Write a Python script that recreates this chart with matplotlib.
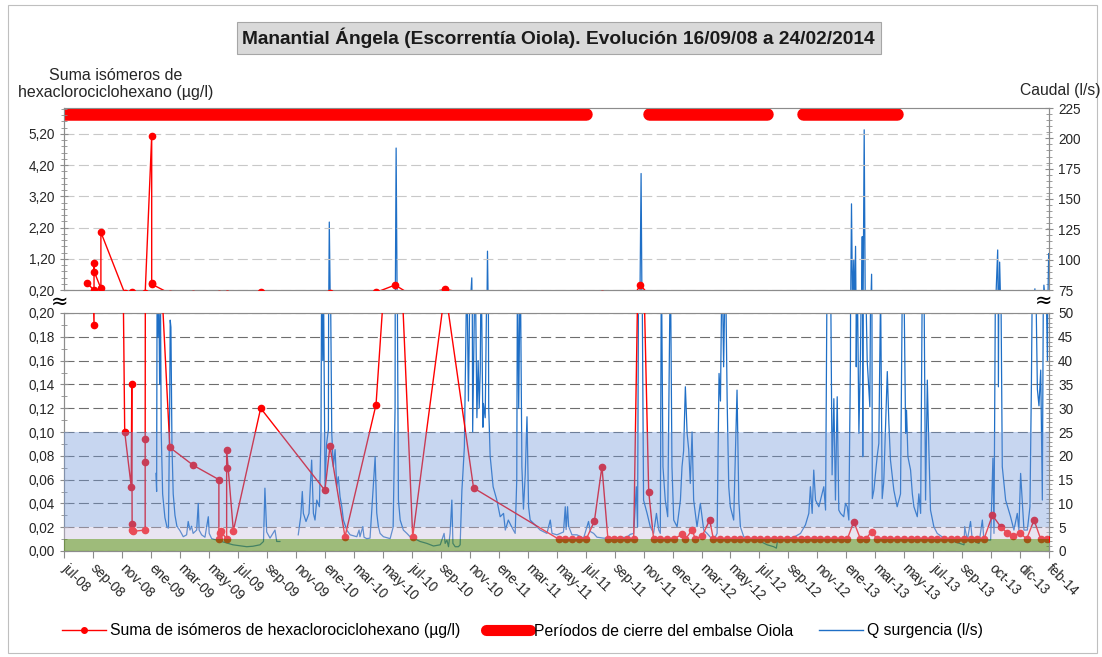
import numpy as np
import pandas as pd
import matplotlib
matplotlib.use('Agg')
import matplotlib.pyplot as plt
from matplotlib.lines import Line2D
from matplotlib.patches import Rectangle
from matplotlib.ticker import MultipleLocator, FixedLocator, FuncFormatter

plt.rcParams['font.family'] = ['Liberation Sans', 'DejaVu Sans']

# ---------------- datos (tiempo en años decimales) ----------------
x_labels = ['jul-08', 'sep-08', 'nov-08', 'ene-09', 'mar-09', 'may-09', 'jul-09', 'sep-09',
            'nov-09', 'ene-10', 'mar-10', 'may-10', 'jul-10', 'sep-10', 'nov-10', 'ene-11',
            'mar-11', 'may-11', 'jul-11', 'sep-11', 'nov-11', 'ene-12', 'mar-12', 'may-12',
            'jul-12', 'sep-12', 'nov-12', 'ene-13', 'mar-13', 'may-13', 'jul-13', 'sep-13',
            'oct-13', 'dic-13', 'feb-14']
axis_start = '2008-07-29'   # Excel date axis, major unit 60 days

# suma de isomeros de HCH (ug/l)
hch_t = [2008.707, 2008.744, 2008.744, 2008.745, 2008.783, 2008.783, 2008.918, 2008.955,
         2008.958, 2008.960, 2008.962, 2008.963, 2009.034, 2009.034, 2009.034, 2009.071,
         2009.071, 2009.074, 2009.174, 2009.307, 2009.452, 2009.452, 2009.458, 2009.463,
         2009.496, 2009.496, 2009.496, 2009.534, 2009.689, 2010.053, 2010.082, 2010.167,
         2010.343, 2010.451, 2010.551, 2010.735, 2010.896, 2011.378, 2011.416, 2011.456,
         2011.496, 2011.535, 2011.581, 2011.624, 2011.658, 2011.690, 2011.728, 2011.766,
         2011.804, 2011.842, 2011.889, 2011.917, 2011.955, 2011.993, 2012.031, 2012.078,
         2012.097, 2012.135, 2012.154, 2012.193, 2012.235, 2012.256, 2012.296, 2012.334,
         2012.371, 2012.409, 2012.447, 2012.485, 2012.523, 2012.561, 2012.598, 2012.636,
         2012.674, 2012.712, 2012.750, 2012.788, 2012.826, 2012.863, 2012.901, 2012.939,
         2012.977, 2013.015, 2013.052, 2013.090, 2013.119, 2013.153, 2013.185, 2013.222,
         2013.260, 2013.298, 2013.336, 2013.374, 2013.412, 2013.450, 2013.487, 2013.525,
         2013.563, 2013.601, 2013.639, 2013.677, 2013.714, 2013.752, 2013.790, 2013.838,
         2013.885, 2013.923, 2013.957, 2013.994, 2014.032, 2014.074, 2014.112, 2014.150]
hch_v = [0.41, 0.19, 1.05, 0.79, 0.25, 2.05, 0.10, 0.054,
         0.14, 0.023, 0.0176, 0.0165, 0.0176, 0.075, 0.094, 5.14,
         0.41, 0.38, 0.087, 0.072, 0.060, 0.0098, 0.015, 0.017,
         0.0098, 0.070, 0.085, 0.017, 0.120, 0.051, 0.088, 0.012,
         0.123, 0.36, 0.012, 0.22, 0.053, 0.01, 0.01, 0.01,
         0.01, 0.01, 0.025, 0.071, 0.01, 0.01, 0.01, 0.01,
         0.01, 0.36, 0.050, 0.01, 0.01, 0.01, 0.01, 0.014,
         0.01, 0.0176, 0.01, 0.013, 0.026, 0.01, 0.01, 0.01,
         0.01, 0.01, 0.01, 0.01, 0.01, 0.01, 0.01, 0.01,
         0.01, 0.01, 0.01, 0.01, 0.01, 0.01, 0.01, 0.01,
         0.01, 0.01, 0.0246, 0.01, 0.01, 0.0162, 0.01, 0.01,
         0.01, 0.01, 0.01, 0.01, 0.01, 0.01, 0.01, 0.01,
         0.01, 0.01, 0.01, 0.01, 0.01, 0.01, 0.01, 0.030,
         0.0204, 0.0149, 0.0126, 0.0154, 0.01, 0.026, 0.01, 0.01]

# Q surgencia (l/s); nan = hueco sin datos
q_t = [2009.095, 2009.099, 2009.102, 2009.106, 2009.110, 2009.116, 2009.121, 2009.125,
       2009.133, 2009.146, 2009.158, 2009.166, 2009.173, 2009.176, 2009.180, 2009.186,
       2009.193, 2009.203, 2009.214, 2009.231, 2009.250, 2009.269, 2009.278, 2009.288,
       2009.297, 2009.306, 2009.326, 2009.335, 2009.340, 2009.354, 2009.373, 2009.392,
       2009.397, 2009.411, 2009.439, 2009.475, 2009.532, 2009.610, 2009.645, 2009.685,
       2009.705, 2009.713, 2009.723, 2009.742, 2009.770, 2009.780, 2009.798, 2009.850,
       2009.902, 2009.916, 2009.925, 2009.931, 2009.946, 2009.963, 2009.978, 2009.988,
       2009.997, 2010.007, 2010.022, 2010.031, 2010.035, 2010.041, 2010.044, 2010.054,
       2010.063, 2010.073, 2010.078, 2010.084, 2010.092, 2010.101, 2010.111, 2010.120,
       2010.129, 2010.139, 2010.149, 2010.158, 2010.177, 2010.196, 2010.234, 2010.247,
       2010.252, 2010.268, 2010.275, 2010.290, 2010.309, 2010.338, 2010.347, 2010.356,
       2010.366, 2010.385, 2010.423, 2010.440, 2010.451, 2010.457, 2010.463, 2010.470,
       2010.480, 2010.498, 2010.518, 2010.536, 2010.555, 2010.593, 2010.631, 2010.669,
       2010.707, 2010.729, 2010.735, 2010.745, 2010.754, 2010.763, 2010.773, 2010.779,
       2010.792, 2010.810, 2010.820, 2010.830, 2010.835, 2010.844, 2010.850, 2010.858,
       2010.867, 2010.877, 2010.886, 2010.891, 2010.896, 2010.905, 2010.915, 2010.922,
       2010.928, 2010.934, 2010.939, 2010.949, 2010.952, 2010.962, 2010.972, 2010.975,
       2010.982, 2010.990, 2011.007, 2011.028, 2011.047, 2011.066, 2011.076, 2011.093,
       2011.113, 2011.132, 2011.141, 2011.145, 2011.152, 2011.161, 2011.170, 2011.179,
       2011.189, 2011.199, 2011.208, 2011.217, 2011.236, 2011.274, 2011.312, 2011.331,
       2011.341, 2011.369, 2011.406, 2011.416, 2011.421, 2011.429, 2011.435, 2011.454,
       2011.482, 2011.520, 2011.548, 2011.558, 2011.577, 2011.596, 2011.634, 2011.671,
       2011.766, 2011.785, 2011.804, 2011.819, 2011.826, 2011.832, 2011.839, 2011.846,
       2011.851, 2011.860, 2011.880, 2011.898, 2011.917, 2011.933, 2011.946, 2011.955,
       2011.961, 2011.970, 2011.983, 2011.997, 2012.012, 2012.021, 2012.031, 2012.050,
       2012.069, 2012.078, 2012.087, 2012.097, 2012.107, 2012.116, 2012.125, 2012.135,
       2012.144, 2012.163, 2012.182, 2012.201, 2012.220, 2012.239, 2012.258, 2012.277,
       2012.288, 2012.296, 2012.305, 2012.314, 2012.324, 2012.334, 2012.343, 2012.352,
       2012.371, 2012.390, 2012.400, 2012.409, 2012.428, 2012.466, 2012.523, 2012.561,
       2012.598, 2012.613, 2012.621, 2012.674, 2012.712, 2012.750, 2012.778, 2012.797,
       2012.806, 2012.816, 2012.825, 2012.835, 2012.854, 2012.882, 2012.892, 2012.901,
       2012.910, 2012.920, 2012.929, 2012.939, 2012.948, 2012.958, 2012.967, 2012.977,
       2012.995, 2013.005, 2013.015, 2013.024, 2013.033, 2013.039, 2013.045, 2013.052,
       2013.056, 2013.062, 2013.066, 2013.071, 2013.081, 2013.090, 2013.096, 2013.100,
       2013.103, 2013.111, 2013.117, 2013.128, 2013.143, 2013.153, 2013.157, 2013.166,
       2013.185, 2013.194, 2013.204, 2013.213, 2013.222, 2013.242, 2013.251, 2013.260,
       2013.279, 2013.298, 2013.317, 2013.327, 2013.336, 2013.346, 2013.351, 2013.359,
       2013.374, 2013.384, 2013.393, 2013.412, 2013.421, 2013.431, 2013.440, 2013.450,
       2013.459, 2013.469, 2013.478, 2013.487, 2013.506, 2013.525, 2013.563, 2013.620,
       2013.677, 2013.681, 2013.696, 2013.714, 2013.724, 2013.762, 2013.781, 2013.790,
       2013.828, 2013.841, 2013.847, 2013.856, 2013.868, 2013.872, 2013.879, 2013.885,
       2013.894, 2013.913, 2013.941, 2013.960, 2013.979, 2013.988, 2013.998, 2014.007,
       2014.017, 2014.036, 2014.051, 2014.059, 2014.065, 2014.079, 2014.083, 2014.093,
       2014.102, 2014.112, 2014.121, 2014.130, 2014.140, 2014.150, 2014.157]
q_v = [16.3, 12.5, 62, 45, 60, 35, 52, 25,
       12, 7, 5, 4.8, 30, 48.5, 47, 22,
       12, 7.5, 5.2, 4.3, 3.0, 3.4, 6.2, 4.4,
       5.2, 3.7, 4.4, 10, 4.4, 3.4, 2.9, 7.2,
       3.7, 2.6, 2.3, 1.9, 1.3, 0.9, 1.0, 1.3,
       2.0, 13.2, 4, 2.7, 4.4, 2.0, 2.0, np.nan,
       3.4, 7.2, 12.5, 7.9, 6.2, 7.9, 19.1, 7.9,
       6.5, 10.7, 9.3, 25, 62, 40, 62, 13.5,
       22.6, 25.5, 131, 60, 24.7, 17.7, 21.3, 13.5,
       15.6, 11.4, 9.3, 6.5, 4.4, 3.4, 3.0, 4.4,
       3.0, 5.1, 2.9, 2.6, 2.7, 19.8, 8, 5.2,
       3.7, 3.0, 2.6, 5, 30, 192, 60, 10.7,
       6.5, 4.4, 3.7, 3.0, 2.7, 2.0, 1.6, 1.05,
       1.3, 3.7, 1.6, 2.3, 0.9, 3.7, 10.7, 1.6,
       0.9, 0.9, 1.3, 12.8, 15.9, 21.9, 38.7, 60,
       31.5, 62, 85, 25, 38.7, 62, 28, 40,
       30, 38, 62, 26, 31, 28, 60, 107,
       30, 20, 13.5, 10.7, 7.2, 7.9, 4.4, 6.5,
       5, 3.7, 15, 62, 30, 62, 17.7, 8.8,
       16, 28.2, 9.3, 6.5, 5.8, 4.4, 3.7, 6.5,
       3.7, 3.4, 4.0, 9.3, 4.5, 9.3, 5.2, 3.4,
       3.4, 2.7, 6.2, 4.1, 3.7, 2.9, 2.7, 2.7,
       2.9, 3.5, 3.7, 13.5, 5, 62, 60, 171,
       62, 10.7, 7.9, 5.1, 3.7, 7.9, 4.4, 3.7,
       62, 17.7, 10.7, 7.2, 62, 17.7, 6.5, 5.1,
       10.7, 17.7, 21, 34.5, 24.7, 21.3, 14.2, 25,
       10.7, 5.1, 10, 4.4, 3.7, 2.9, 2.3, 3.7,
       37.3, 31.5, 62, 38.7, 62, 31.5, 13.5, 9.3,
       6.5, 33.8, 10.7, 5.1, 3.0, 2.5, 2.0, 1.3,
       0.9, 0.6, 2.5, 2.7, 2.9, 3.7, 5.5, 7.9,
       13.5, 7.9, 17, 10.7, 9.3, 13.5, 8.6, 62,
       60, 62, 16, 32, 10.7, 32.4, 8.6, 7.9,
       7.2, 10, 9.3, 6.5, 40, 146, 62, 100,
       50, 111, 38.7, 62, 24.7, 41.5, 60, 119,
       19.8, 207, 62, 40, 30.3, 88, 11, 12.8,
       20, 22.6, 55, 11, 14.5, 37.7, 26.8, 19.1,
       12.8, 9.3, 12, 55, 58, 24.7, 29.6, 19.8,
       17, 12, 9.3, 7.2, 12, 7.9, 55, 57,
       10.7, 35.9, 21, 8.6, 5.1, 3.7, 2.7, 2.0,
       1.3, 5.1, 2.3, 6.2, 2.3, 1.6, 6.5, 2.3,
       2.3, 19.5, 3.7, 62, 108, 34.5, 98, 62,
       17.7, 10.7, 7.2, 4.4, 7.9, 4.4, 16.3, 10.7,
       4.4, 4.4, 9.3, 34.5, 60, 76, 60, 34,
       30.5, 38, 10.7, 79, 62, 40, 105]

# periodos de cierre del embalse Oiola
cierre_ini = ['2008-07-01', '2011-11-22', '2012-10-07']
cierre_fin = ['2011-07-15', '2012-07-24', '2013-04-20']
cierre_nivel = 220


def dec_year(d):
    d = pd.Timestamp(d)
    n = 366 if d.is_leap_year else 365
    return d.year + (d.dayofyear - 1) / n


tick_pos = [dec_year(d) for d in pd.date_range(axis_start, periods=len(x_labels), freq='60D')]
xmin, xmax = tick_pos[0], tick_pos[-1]

RED = '#FF0000'
BLUE = '#1F6FC6'
comma2 = FuncFormatter(lambda v, p: f'{v:.2f}'.replace('.', ','))

fig = plt.figure(figsize=(11.02, 6.57), dpi=100)
fig.patches.append(Rectangle((8 / 1102, 4 / 657), 1089 / 1102, 648 / 657, transform=fig.transFigure,
                             fill=False, ec='#BFBFBF', lw=0.8))

L, W = 64 / 1102, 985 / 1102
rect_bot = [L, 1 - 551 / 657, W, 238 / 657]
rect_top = [L, 1 - 290 / 657, W, 182 / 657]


def make_panel(rect):
    axq = fig.add_axes(rect)     # caudal (debajo)
    axh = axq.twinx()            # HCH (encima)
    axq.yaxis.tick_right()
    axq.yaxis.set_label_position('right')
    axh.yaxis.tick_left()
    axh.yaxis.set_label_position('left')
    axq.set_xlim(xmin, xmax)
    for a in (axq, axh):
        for s in a.spines.values():
            s.set_color('#8C8C8C')
            s.set_linewidth(0.8)
        a.tick_params(axis='y', which='major', direction='inout', length=6, width=0.8,
                      colors='#8C8C8C', labelcolor='#262626', labelsize=9.8)
        a.tick_params(axis='y', which='minor', direction='inout', length=4, width=0.6, colors='#8C8C8C')
    return axh, axq


# ---- panel inferior ----
axh_b, axq_b = make_panel(rect_bot)
axq_b.plot(q_t, q_v, color=BLUE, lw=0.9, zorder=2)
axq_b.set_ylim(0, 50)
axq_b.yaxis.set_major_locator(MultipleLocator(5))
axq_b.yaxis.set_minor_locator(MultipleLocator(1))
axq_b.grid(axis='y', which='major', color='#6E6E6E', ls=(0, (9, 4)), lw=0.8)
axq_b.spines['top'].set_color('#D0D0D0')

axh_b.plot(hch_t, hch_v, color=RED, lw=1.0, marker='o', ms=4.5, zorder=3)
axh_b.set_ylim(0, 0.2)
axh_b.yaxis.set_major_locator(MultipleLocator(0.02))
axh_b.yaxis.set_minor_locator(MultipleLocator(0.01))
axh_b.yaxis.set_major_formatter(comma2)
axh_b.axhspan(0, 0.01, facecolor='#5E8F22', alpha=0.6, lw=0, zorder=5)
axh_b.axhspan(0.01, 0.02, facecolor='#C9BEDD', alpha=0.4, lw=0, zorder=5)
axh_b.axhspan(0.02, 0.10, facecolor='#7399DA', alpha=0.4, lw=0, zorder=5)

axq_b.set_xticks(tick_pos)
axq_b.set_xticklabels(x_labels, rotation=-45, ha='left', va='center', rotation_mode='anchor')
axq_b.tick_params(axis='x', direction='out', length=5, width=0.8, colors='#8C8C8C',
                  labelcolor='#262626', labelsize=9.8, pad=6)
axq_b.xaxis.set_minor_locator(FixedLocator([]))

# ---- panel superior ----
axh_t, axq_t = make_panel(rect_top)
axq_t.plot(q_t, q_v, color=BLUE, lw=0.9, zorder=2)
axq_t.set_ylim(75, 225)
axq_t.yaxis.set_major_locator(MultipleLocator(25))
axq_t.yaxis.set_minor_locator(MultipleLocator(5))
for t0, t1 in zip(cierre_ini, cierre_fin):
    axq_t.plot([dec_year(t0), dec_year(t1)], [cierre_nivel, cierre_nivel], color=RED, lw=9,
               solid_capstyle='round', zorder=6)
axq_t.tick_params(axis='x', bottom=False, labelbottom=False)
axq_t.spines['top'].set_color('#D0D0D0')

axh_t.plot(hch_t, hch_v, color=RED, lw=1.0, marker='o', ms=4.5, zorder=3)
axh_t.set_ylim(0.2, 6.03)
axh_t.yaxis.set_major_locator(FixedLocator([0.2, 1.2, 2.2, 3.2, 4.2, 5.2]))
axh_t.yaxis.set_minor_locator(MultipleLocator(0.2))
axh_t.yaxis.set_major_formatter(comma2)
axh_t.grid(axis='y', which='major', color='#C8C8C8', ls=(0, (9, 4)), lw=0.8)

# ---- textos ----
fig.text(0.507, 0.942, 'Manantial Ángela (Escorrentía Oiola). Evolución 16/09/08 a 24/02/2014',
         ha='center', va='center', fontsize=13.8, weight='bold', color='#1A1A1A',
         bbox=dict(boxstyle='square,pad=0.3', fc='#D9D9D9', ec='#A6A6A6', lw=0.8))
fig.text(0.105, 0.872, 'Suma isómeros de\nhexaclorociclohexano (µg/l)', ha='center', va='center',
         fontsize=11.5, color='#262626', linespacing=1.2)
fig.text(0.962, 0.863, 'Caudal (l/s)', ha='center', va='center', fontsize=11.3, color='#262626')
fig.text(60 / 1102, 1 - 302 / 657, '≈', ha='center', va='center', fontsize=15, family='DejaVu Sans')
fig.text(1044 / 1102, 1 - 301 / 657, '≈', ha='center', va='center', fontsize=15, family='DejaVu Sans')

handles = [Line2D([], [], color=RED, lw=1.0, marker='o', ms=4),
           Line2D([], [], color=RED, lw=8, solid_capstyle='round'),
           Line2D([], [], color=BLUE, lw=1.0)]
labels = ['Suma de isómeros de hexaclorociclohexano (µg/l)',
          'Períodos de cierre del embalse Oiola', 'Q surgencia (l/s)']
fig.legend(handles, labels, loc='center', bbox_to_anchor=(0.474, 1 - 631 / 657), ncol=3,
           frameon=False, fontsize=11.3, handlelength=2.8, columnspacing=1.6, handletextpad=0.3)

fig.savefig('out.png', dpi=100)
